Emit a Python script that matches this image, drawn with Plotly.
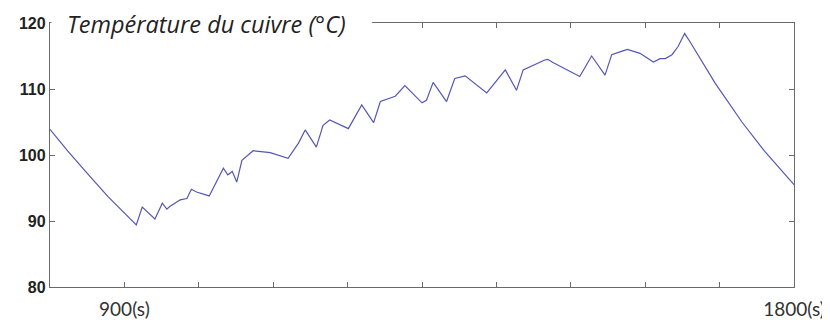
import plotly.graph_objects as go

# Time (s) and copper temperature (°C)
time_s = [800, 824, 851, 878, 916, 924, 941, 951, 957, 961, 972, 975, 984, 990, 997,
          1014, 1033, 1039, 1045, 1051, 1058, 1073, 1096, 1120, 1134, 1143, 1158, 1167,
          1176, 1201, 1219, 1235, 1244, 1264, 1277, 1300, 1306, 1315, 1333, 1344, 1358,
          1387, 1412, 1427, 1436, 1445, 1465, 1469, 1476, 1512, 1528, 1546, 1555, 1568,
          1576, 1593, 1611, 1620, 1627, 1636, 1644, 1653, 1660, 1694, 1730, 1761, 1800]
temp_c = [103.9, 100.6, 97.1, 93.7, 89.4, 92.1, 90.3, 92.7, 91.8, 92.2, 93.0, 93.2, 93.4,
          94.8, 94.4, 93.8, 98.0, 97.0, 97.5, 95.9, 99.2, 100.65, 100.35, 99.5, 101.8,
          103.8, 101.2, 104.5, 105.3, 104.0, 107.6, 104.9, 108.1, 108.9, 110.5, 107.9,
          108.3, 111.0, 108.1, 111.6, 112.0, 109.4, 112.9, 109.8, 112.9, 113.4, 114.4,
          114.5, 114.0, 111.9, 115.0, 112.1, 115.2, 115.7, 116.0, 115.4, 114.1, 114.6,
          114.6, 115.2, 116.4, 118.4, 117.2, 110.9, 105.0, 100.5, 95.5]

x_tickvals = [900, 1000, 1100, 1200, 1300, 1400, 1500, 1600, 1700, 1800]
x_ticktext = ["900(s)", "", "", "", "", "", "", "", "", "1800(s)"]
y_tickvals = [80, 90, 100, 110, 120]
title_text = "Température du cuivre (°C)"

fig = go.Figure()
fig.add_trace(go.Scatter(x=time_s, y=temp_c, mode="lines",
                         line=dict(color="#5457ba", width=1.2),
                         showlegend=False, hoverinfo="skip"))

axis_common = dict(showline=True, linecolor="#6a6a6a", linewidth=1.3, mirror="ticks",
                   ticks="inside", ticklen=5, tickcolor="#6a6a6a", tickwidth=1,
                   showgrid=False, zeroline=False, automargin=False)

fig.update_xaxes(range=[800, 1800], tickvals=x_tickvals, ticktext=x_ticktext,
                 tickfont=dict(family="Lato", size=19, color="#333333"),
                 ticklabelstandoff=5, **axis_common)
fig.update_yaxes(range=[80, 120], tickvals=y_tickvals,
                 tickfont=dict(family="Liberation Sans", size=16, color="#222222",
                               weight="bold"),
                 **axis_common)

# white band hiding the top frame line behind the title
fig.add_shape(type="rect", xref="paper", yref="paper", x0=0.002, x1=0.433,
              y0=0.975, y1=1.03, fillcolor="white", line=dict(width=0), layer="above")

fig.add_annotation(text=title_text, xref="paper", yref="paper", x=0.0, y=1.0,
                   xanchor="left", yanchor="middle", showarrow=False,
                   font=dict(family="Open Sans", size=23.5, color="#222222", style="italic"),
                   borderpad=0, xshift=16, yshift=-1)

# the page adds an 8px body margin; plot area placed to match the 830x320 window
fig.update_layout(width=830, height=312, margin=dict(l=42, r=44, t=15, b=33),
                  paper_bgcolor="white", plot_bgcolor="white")

fig.write_html("out.html")
